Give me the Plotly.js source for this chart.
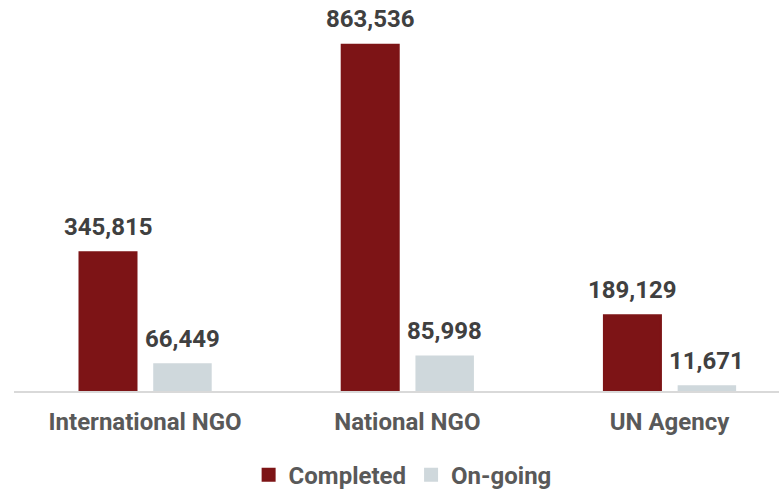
<!DOCTYPE html>
<html><head><meta charset="utf-8">
<script src="https://cdn.plot.ly/plotly-3.0.1.min.js"></script>
<style>html,body{margin:0;padding:0;background:#fff}#chart{width:779px;height:489px}</style>
</head><body><div id="chart"></div>
<script>
const categories = ["International NGO", "National NGO", "UN Agency"];
const completed = [345815, 863536, 189129];
const ongoing = [66449, 85998, 11671];
const seriesNames = ["Completed", "On-going"];

const fmt = v => v.toLocaleString("en-US");
const font = "Roboto, 'Noto Sans', sans-serif";

const traces = [
  {type: "bar", name: seriesNames[0], x: [0,1,2], y: completed,
   marker: {color: "#7D1416", line: {color: "#7D1416", width: 2}},
   width: 0.2174, offset: -0.2502, hoverinfo: "skip"},
  {type: "bar", name: seriesNames[1], x: [0,1,2], y: ongoing,
   marker: {color: "#CFD8DC", line: {color: "#CFD8DC", width: 2}},
   width: 0.2154, offset: 0.0348, hoverinfo: "skip"}
];

const annotations = [];
completed.forEach((v, i) => annotations.push({x: i - 0.2502 + 0.1087, y: v, xref: "x", yref: "y", text: "<b>" + fmt(v) + "</b>",
  showarrow: false, yanchor: "bottom", yshift: 9.5, font: {family: font, size: 24, color: "#404040"}}));
ongoing.forEach((v, i) => annotations.push({x: i + 0.0348 + 0.1077, y: v, xref: "x", yref: "y", text: "<b>" + fmt(v) + "</b>",
  showarrow: false, yanchor: "bottom", yshift: 9.5, font: {family: font, size: 24, color: "#404040"}}));

const layout = {
  width: 779, height: 489,
  margin: {l: 14, r: 0, t: 0, b: 98, autoexpand: false},
  paper_bgcolor: "#fff", plot_bgcolor: "#fff",
  barmode: "group",
  showlegend: true,
  legend: {orientation: "h", x: 0.508, xanchor: "center", y: -0.215, yanchor: "middle",
    font: {family: font, size: 24, color: "#595959", weight: "bold"}, itemwidth: 30, traceorder: "normal"},
  xaxis: {range: [-0.5, 2.4175], tickmode: "array", tickvals: [0,1,2], ticktext: categories.map(c => "<b>" + c + "</b>"),
    showline: true, linecolor: "#D9D9D9", linewidth: 2, showgrid: false, zeroline: false,
    ticks: "outside", ticklen: 8, tickcolor: "rgba(0,0,0,0)", automargin: false,
    tickfont: {family: font, size: 24, color: "#595959"}, fixedrange: true},
  yaxis: {range: [0, 975000], visible: false, showgrid: false, zeroline: false, fixedrange: true, automargin: false},
  annotations: annotations
};

Plotly.newPlot("chart", traces, layout, {displayModeBar: false, staticPlot: true});
</script></body></html>
